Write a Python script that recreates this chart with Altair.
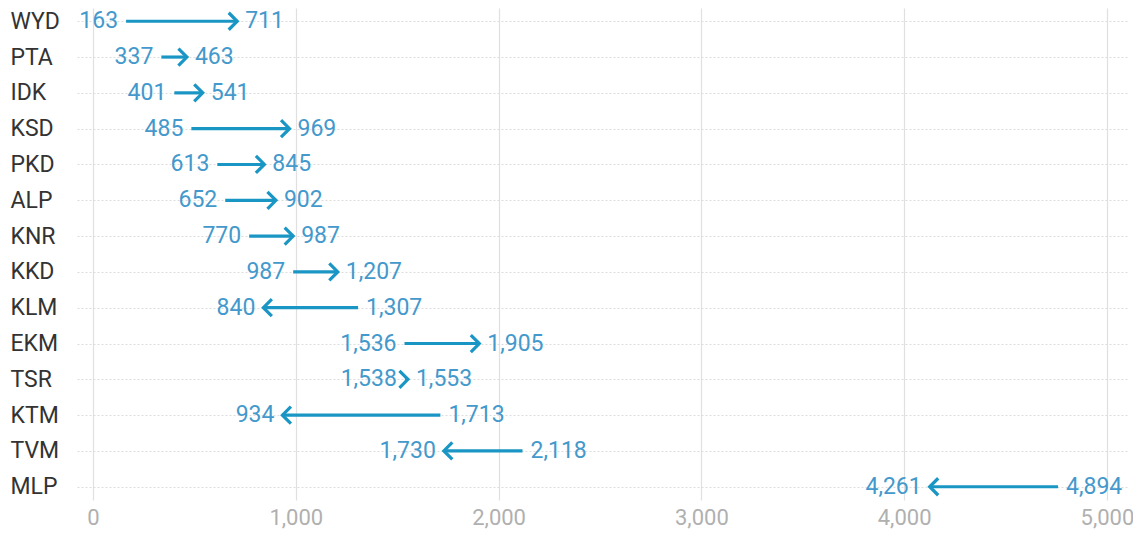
import altair as alt
import pandas as pd

districts = ["WYD", "PTA", "IDK", "KSD", "PKD", "ALP", "KNR", "KKD", "KLM", "EKM", "TSR", "KTM", "TVM", "MLP"]
start_vals = [163, 337, 401, 485, 613, 652, 770, 987, 1307, 1536, 1538, 1713, 2118, 4894]
end_vals = [711, 463, 541, 969, 845, 902, 987, 1207, 840, 1905, 1553, 934, 1730, 4261]
x_ticks = [0, 1000, 2000, 3000, 4000, 5000]

X_MIN, X_MAX = -79, 5099
LABEL_ROOM = 340  # room (in x units) a right-hand label needs before the chart edge

df = pd.DataFrame({"district": districts, "start": start_vals, "end": end_vals})
df["lo"] = df[["start", "end"]].min(axis=1)
df["hi"] = df[["start", "end"]].max(axis=1)
# rows whose right label would run off the chart are nudged left (as the original does)
df["shift"] = (df["hi"] + LABEL_ROOM - X_MAX).clip(lower=0)
for c in ["start", "end", "lo", "hi"]:
    df[c + "_pos"] = df[c] - df["shift"]
df["shape"] = ["M -1 -1 L 0 0 L -1 1" if e > s else "M 1 -1 L 0 0 L 1 1"
               for s, e in zip(start_vals, end_vals)]

ARROW = "#1a96c4"
LABEL = "#4499cc"
FONT = "Roboto"
FS = 23

xscale = alt.Scale(domain=[X_MIN, X_MAX], nice=False, zero=False)
yscale = alt.Scale(domain=districts, type="point", padding=0.37)

base = alt.Chart(df)

y_enc = alt.Y("district:N", scale=yscale, sort=districts, title=None,
              axis=alt.Axis(domain=False, ticks=False, labelAlign="left", labelPadding=67,
                            labelFont=FONT, labelFontSize=FS, labelColor="#333333",
                            grid=True, gridColor="#dcdcdc", gridDash=[2, 2], gridWidth=1))

rules = base.mark_rule(color=ARROW, strokeWidth=3.2).encode(
    x=alt.X("start_pos:Q", scale=xscale, title=None,
            axis=alt.Axis(values=x_ticks, format=",d", domain=False, ticks=False,
                          labelFont=FONT, labelFontSize=22, labelColor="#b0b0b0",
                          labelPadding=7, grid=True, gridColor="#e0e0e0", gridWidth=1.2)),
    x2="end_pos:Q",
    y=y_enc,
)

heads = base.mark_point(color=ARROW, filled=False, strokeWidth=3.2, size=289, opacity=1,
                        strokeJoin="miter").encode(
    x=alt.X("end_pos:Q", scale=xscale),
    y=alt.Y("district:N", scale=yscale, sort=districts),
    shape=alt.Shape("shape:N", scale=None),
)

lo_text = base.mark_text(align="right", dx=-8, font=FONT, fontSize=FS, color=LABEL,
                         baseline="middle").encode(
    x=alt.X("lo_pos:Q", scale=xscale),
    y=alt.Y("district:N", scale=yscale, sort=districts),
    text=alt.Text("lo:Q", format=",d"),
)

hi_text = base.mark_text(align="left", dx=8, font=FONT, fontSize=FS, color=LABEL,
                         baseline="middle").encode(
    x=alt.X("hi_pos:Q", scale=xscale),
    y=alt.Y("district:N", scale=yscale, sort=districts),
    text=alt.Text("hi:Q", format=",d"),
)

chart = alt.layer(rules, heads, lo_text, hi_text).properties(
    width=1050, height=492,
    autosize=alt.AutoSizeParams(type="none"),
    padding={"left": 69, "top": 0, "right": 6, "bottom": 31},
).configure_view(stroke=None)

chart.save("out.html", embed_options={"renderer": "svg", "actions": False})
